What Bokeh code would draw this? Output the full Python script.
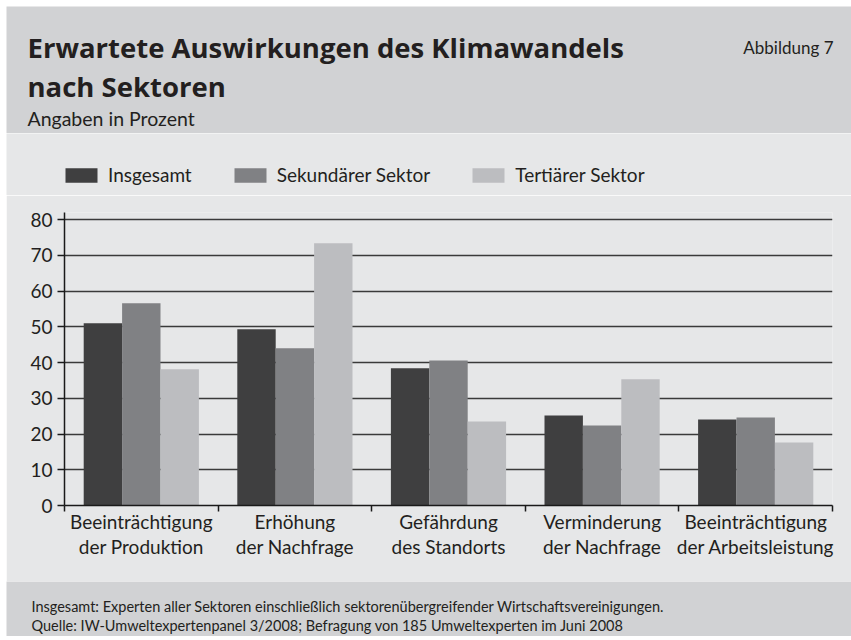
import numpy as np
from bokeh.plotting import figure
from bokeh.models import Range1d, FixedTicker, Legend, LegendItem
from bokeh.layouts import column, row
from bokeh.core.properties import value
from bokeh.embed import file_html
from bokeh.resources import INLINE

# ---------------- data ----------------
title_lines = ["Erwartete Auswirkungen des Klimawandels", "nach Sektoren"]
subtitle = "Angaben in Prozent"
figure_no = "Abbildung 7"
categories = [
    "Beeinträchtigung\nder Produktion",
    "Erhöhung\nder Nachfrage",
    "Gefährdung\ndes Standorts",
    "Verminderung\nder Nachfrage",
    "Beeinträchtigung\nder Arbeitsleistung",
]
series_names = ["Insgesamt", "Sekundärer Sektor", "Tertiärer Sektor"]
insgesamt = [51.0, 49.3, 38.4, 25.2, 24.1]
sekundaer = [56.6, 44.0, 40.6, 22.4, 24.6]
tertiaer = [38.1, 73.4, 23.5, 35.3, 17.6]
y_ticks = [0, 10, 20, 30, 40, 50, 60, 70, 80]
footer_lines = [
    "Insgesamt: Experten aller Sektoren einschließlich sektorenübergreifender Wirtschaftsvereinigungen.",
    "Quelle: IW-Umweltexpertenpanel 3/2008; Befragung von 185 Umweltexperten im Juni 2008",
]

# ---------------- style ----------------
FONT = "Lato"
TFONT = "Open Sans"
TXT = "#231f20"
HEAD_BG = "#d1d2d4"
BODY_BG = "#e6e7e8"
colors = ["#3f3f40", "#808184", "#bcbdc0"]
W = 845
HEAD_H = 127
LEG_H = 62
BODY_H = 386
FOOT_H = 55


def blank(h, bg):
    f = figure(width=W, height=h, x_range=Range1d(0, W), y_range=Range1d(h, 0),
               output_backend="svg", toolbar_location=None,
               min_border_left=0, min_border_right=0, min_border_top=0,
               min_border_bottom=0, x_axis_type=None, y_axis_type=None)
    f.grid.visible = False
    f.outline_line_color = None
    f.background_fill_color = bg
    f.border_fill_color = bg
    return f


# ---------------- header ----------------
head = blank(HEAD_H, HEAD_BG)
head.text(x=[21, 21], y=[40.5, 80], text=title_lines, text_font=value(TFONT),
          text_font_size="27.5px", text_font_style="bold", text_color=TXT,
          text_baseline="alphabetic", text_align="left")
head.text(x=[21], y=[112], text=[subtitle], text_font=value(FONT),
          text_font_size="19.5px", text_color=TXT, text_baseline="alphabetic")
head.text(x=[827], y=[41], text=[figure_no], text_font=value(FONT),
          text_font_size="17px", text_color=TXT, text_baseline="alphabetic",
          text_align="right")

# ---------------- legend strip ----------------
leg = blank(LEG_H, BODY_BG)
nan = float("nan")
proxies = [leg.vbar(x=[nan], top=[nan], bottom=[nan], width=1, fill_color=col,
                    line_color=None)
           for col in colors]
legend = Legend(
    items=[LegendItem(label=nm, renderers=[r]) for nm, r in zip(series_names, proxies)],
    orientation="horizontal", location=(55, 9), padding=0, margin=0,
    spacing=38, glyph_width=40, glyph_height=18, label_standoff=7,
    label_height=18, label_text_font=FONT, label_text_font_size="19px",
    label_text_color=TXT, border_line_color=None, background_fill_alpha=0,
)
leg.add_layout(legend)

# ---------------- body ----------------
n = len(categories)
idx = np.arange(n)
bar_w = 0.25
offsets = [-bar_w, 0.0, bar_w]

p = figure(width=W, height=BODY_H, x_range=Range1d(0, n), y_range=Range1d(0, 82),
           output_backend="svg", toolbar_location=None,
           min_border_left=58, min_border_right=19, min_border_top=17,
           min_border_bottom=76)
p.background_fill_color = BODY_BG
p.border_fill_color = BODY_BG
p.outline_line_color = None

for vals, off, col in zip([insgesamt, sekundaer, tertiaer], offsets, colors):
    p.vbar(x=idx + 0.5 + off, top=vals, bottom=0, width=bar_w,
           fill_color=col, line_color=None)

# y axis
p.yaxis.ticker = FixedTicker(ticks=y_ticks)
p.yaxis.major_tick_in = 0
p.yaxis.major_tick_out = 7
p.yaxis.minor_tick_line_color = None
p.yaxis.axis_line_width = 1.5
p.yaxis.axis_line_color = "#1a1a1a"
p.yaxis.major_tick_line_width = 1.5
p.yaxis.major_tick_line_color = "#1a1a1a"
p.yaxis.major_label_standoff = 5
p.yaxis.major_label_text_font = FONT
p.yaxis.major_label_text_font_size = "19px"
p.yaxis.major_label_text_color = TXT

# x axis: labels at category centres, ticks at category borders
label_pos = [float(i) + 0.5 for i in idx]
p.xaxis.ticker = FixedTicker(ticks=label_pos,
                             minor_ticks=[float(i) for i in range(n + 1)])
p.xaxis.major_label_overrides = {pos: c for pos, c in zip(label_pos, categories)}
p.xaxis.major_tick_line_color = None
p.xaxis.major_tick_in = 0
p.xaxis.major_tick_out = 0
p.xaxis.minor_tick_in = 0
p.xaxis.minor_tick_out = 6
p.xaxis.minor_tick_line_color = "#1a1a1a"
p.xaxis.minor_tick_line_width = 1.5
p.xaxis.axis_line_width = 1.5
p.xaxis.axis_line_color = "#1a1a1a"
p.xaxis.major_label_standoff = -2
p.xaxis.major_label_text_font = FONT
p.xaxis.major_label_text_font_size = "19px"
p.xaxis.major_label_text_color = TXT
p.xaxis.major_label_text_line_height = 1.1

p.xgrid.visible = False
p.ygrid.ticker = FixedTicker(ticks=y_ticks)
p.ygrid.grid_line_color = "#3a3a3a"
p.ygrid.grid_line_width = 1.6

# ---------------- footer ----------------
foot = blank(FOOT_H, HEAD_BG)
foot.text(x=[25, 25], y=[25, 44], text=footer_lines, text_font=value(FONT),
          text_font_size="14.5px", text_color=TXT, text_baseline="alphabetic")

layout = column(row(head), row(leg), row(p), row(foot), spacing=0,
                styles={"padding-left": "6px", "padding-top": "6px"})
open("out.html", "w").write(file_html(layout, INLINE))
